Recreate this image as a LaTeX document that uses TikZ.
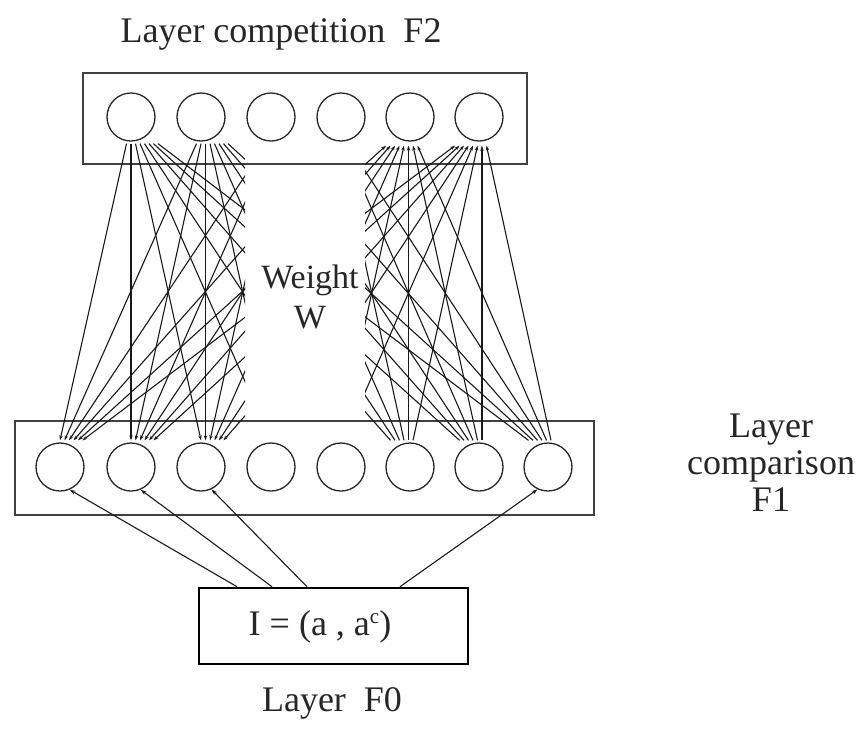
\documentclass[tikz,border=0pt]{standalone}
\usepackage{fontspec}
\setmainfont{Liberation Serif}
\usetikzlibrary{arrows.meta}
\begin{document}
\begin{tikzpicture}[x=1pt,y=-1pt,
  neuron/.style={circle,draw=black!85,line width=1.3pt,minimum size=48pt,inner sep=0pt},
  layerbox/.style={draw=black!75,line width=1.6pt,inner sep=0pt},
  inputbox/.style={draw=black,line width=2.6pt,inner sep=0pt},
  link/.style={draw=black!90,line width=1.1pt,-{Stealth[length=5pt,width=3.4pt]}},
  feed/.style={draw=black!90,line width=1.1pt,-{Stealth[length=6pt,width=3.8pt]}},
  lbl/.style={font=\fontsize{36}{40}\selectfont,text=black!85,inner sep=0pt}]
\useasboundingbox (0,0) rectangle (863,729);

% layer frames
\node[layerbox,minimum width=444pt,minimum height=91pt] (f2box) at (305,118.5) {};
\node[layerbox,minimum width=579pt,minimum height=94pt] (f1box) at (304.5,468) {};
\node[inputbox,minimum width=269pt,minimum height=76pt] (f0) at (333.5,626) {};

% neurons of F1 and F2
\foreach \x [count=\i] in {60,131,201,271,341,410,479,548}
  \node[neuron] (f1-\i) at (\x,467) {};
\foreach \x [count=\j] in {131,201,271,341,410,479}
  \node[neuron] (f2-\j) at (\x,117) {};

% top-down weights into the left F1 neurons
\begin{scope}
  \clip (0,0) rectangle (245,729);
  \foreach \j in {1,...,6}{
    \foreach \i in {1,2,3}{
      \pgfmathsetmacro\sx{-4.5+4.5*(\i-1)}
      \pgfmathsetmacro\ex{4.5*(\j-1)}
      \draw[link] ([xshift=\sx pt,yshift=-2pt]f2-\j.south) -- ([xshift=\ex pt,yshift=2pt]f1-\i.north);
    }}
  \foreach \j in {1,2}{
    \foreach \i in {4,...,8}{
      \pgfmathsetmacro\sx{-4.5+4.5*(\i-1)}
      \pgfmathsetmacro\ex{4.5*(\j-1)}
      \draw[link] ([xshift=\sx pt,yshift=-2pt]f2-\j.south) -- ([xshift=\ex pt,yshift=2pt]f1-\i.north);
    }}
\end{scope}

% bottom-up weights into the right F2 neurons
\begin{scope}
  \clip (365,0) rectangle (863,729);
  \foreach \i in {1,...,8}{
    \foreach \j in {5,6}{
      \pgfmathsetmacro\sx{-19.5+4.5*(\j-1)}
      \pgfmathsetmacro\ex{-24+4.5*(\i-1)}
      \draw[link] ([xshift=\sx pt,yshift=2pt]f1-\i.north) -- ([xshift=\ex pt,yshift=-4pt]f2-\j.south);
    }}
  \foreach \i in {6,7,8}{
    \foreach \j in {1,...,4}{
      \pgfmathsetmacro\sx{-19.5+4.5*(\j-1)}
      \pgfmathsetmacro\ex{-24+4.5*(\i-1)}
      \draw[link] ([xshift=\sx pt,yshift=2pt]f1-\i.north) -- ([xshift=\ex pt,yshift=-4pt]f2-\j.south);
    }}
\end{scope}

% input layer feeding F1
\draw[feed] ([xshift=-96.5pt]f0.north) -- (f1-1.-67);
\draw[feed] ([xshift=-61.5pt]f0.north) -- (f1-2.-67);
\draw[feed] ([xshift=-26.5pt]f0.north) -- (f1-3.-65);
\draw[feed] ([xshift=66.5pt]f0.north) -- (f1-8.-115);

% labels
\node[lbl,anchor=base] (tf2) at (281,42) {Layer competition\ \ F2};
\node[lbl,anchor=base,font=\fontsize{34}{40}\selectfont] (tw1) at (310,288) {Weight};
\node[lbl,anchor=base,font=\fontsize{34}{40}\selectfont] (tw2) at (310,328) {W};
\node[lbl,anchor=base] (tc1) at (771,437) {Layer};
\node[lbl,anchor=base] (tc2) at (771,474) {comparison};
\node[lbl,anchor=base] (tc3) at (771,511) {F1};
\node[lbl] (tin) at (320,627) {I = (a , a\raisebox{0.75ex}{\fontsize{21}{21}\selectfont c})};
\node[lbl,anchor=base] (tf0) at (332,711) {Layer\ \ F0};
\end{tikzpicture}
\end{document}
